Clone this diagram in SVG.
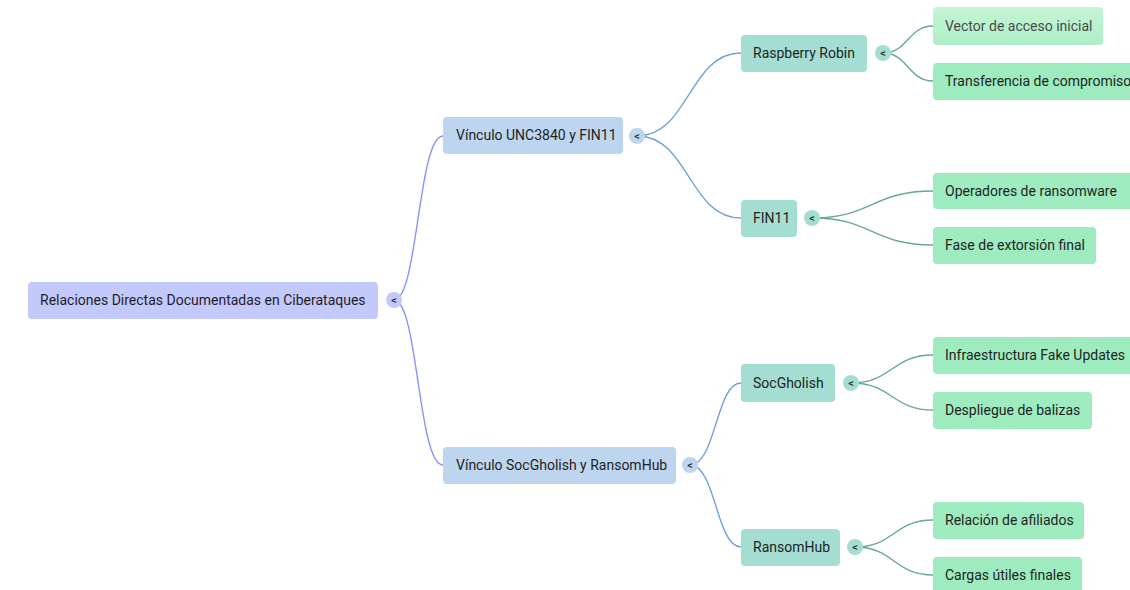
<svg xmlns="http://www.w3.org/2000/svg" width="1130" height="590" viewBox="0 0 1130 590">
  <defs>
    <linearGradient id="leafLight" x1="0" y1="0" x2="0" y2="1">
      <stop offset="0" stop-color="#c4f5d7"/>
      <stop offset="1" stop-color="#aeeec6"/>
    </linearGradient>
    <style>
      .lbl { font-family: Roboto, "Liberation Sans", sans-serif; font-size: 14px; fill: #1f1f1f; dominant-baseline: central; }
      .tog { font-family: Roboto, "Liberation Sans", sans-serif; font-size: 11px; font-weight: 500; fill: #2a2a2a; text-anchor: middle; dominant-baseline: central; }
      .root rect, .root circle { fill: #c4c9fb; }
      .l1 rect, .l1 circle { fill: #bdd5ee; }
      .l2 rect, .l2 circle { fill: #a4ddd1; }
      .l3 rect { fill: #9eebbf; }
      .links path { fill: none; stroke-width: 1.4; }
      .c0 { stroke: #8a92f4; }
      .c1 { stroke: #6f9edc; }
      .c2 { stroke: #68a894; }
    </style>
  </defs>
  <rect width="1130" height="590" fill="#ffffff"/>

  <!-- connectors -->
  <g id="links" class="links">
    <path class="c0" d="M394,300 C418,300 418,136 443,136"/>
    <path class="c0" d="M394,300 C418,300 418,465 443,465"/>
    <path class="c1" d="M637,136 C689,136 689,53 741,53"/>
    <path class="c1" d="M637,136 C689,136 689,218 741,218"/>
    <path class="c1" d="M690,465 C716,465 716,383 741,383"/>
    <path class="c1" d="M690,465 C716,465 716,547 741,547"/>
    <path class="c2" d="M883,53 C908,53 908,26 933,26"/>
    <path class="c2" d="M883,53 C908,53 908,81 933,81"/>
    <path class="c2" d="M812,218 C872,218 872,191 933,191"/>
    <path class="c2" d="M812,218 C872,218 872,245 933,245"/>
    <path class="c2" d="M851,383 C892,383 892,355 933,355"/>
    <path class="c2" d="M851,383 C892,383 892,410 933,410"/>
    <path class="c2" d="M855,547 C894,547 894,520 933,520"/>
    <path class="c2" d="M855,547 C894,547 894,575 933,575"/>
  </g>

  <!-- root -->
  <g id="n-root" class="root">
    <rect x="28" y="282" width="350" height="37" rx="4"/>
    <text class="lbl" x="40" y="300">Relaciones Directas Documentadas en Ciberataques</text>
    <circle cx="394" cy="300" r="8"/>
    <text class="tog" x="394" y="300">&lt;</text>
  </g>

  <!-- level 1 -->
  <g id="n-unc3840" class="l1">
    <rect x="443" y="117" width="180" height="37" rx="4"/>
    <text class="lbl" x="456" y="135">Vínculo UNC3840 y FIN11</text>
    <circle cx="637" cy="136" r="8"/>
    <text class="tog" x="637" y="136">&lt;</text>
  </g>
  <g id="n-socgholish-ransomhub" class="l1">
    <rect x="443" y="447" width="233" height="37" rx="4"/>
    <text class="lbl" x="456" y="465">Vínculo SocGholish y RansomHub</text>
    <circle cx="690" cy="465" r="8"/>
    <text class="tog" x="690" y="465">&lt;</text>
  </g>

  <!-- level 2 -->
  <g id="n-raspberry" class="l2">
    <rect x="741" y="35" width="126" height="37" rx="4"/>
    <text class="lbl" x="753" y="53">Raspberry Robin</text>
    <circle cx="883" cy="53" r="8"/>
    <text class="tog" x="883" y="53">&lt;</text>
  </g>
  <g id="n-fin11" class="l2">
    <rect x="741" y="200" width="56" height="37" rx="4"/>
    <text class="lbl" x="753" y="218">FIN11</text>
    <circle cx="812" cy="218" r="8"/>
    <text class="tog" x="812" y="218">&lt;</text>
  </g>
  <g id="n-socgholish" class="l2">
    <rect x="741" y="364" width="94" height="38" rx="4"/>
    <text class="lbl" x="753" y="382.5">SocGholish</text>
    <circle cx="851" cy="383" r="8"/>
    <text class="tog" x="851" y="383">&lt;</text>
  </g>
  <g id="n-ransomhub" class="l2">
    <rect x="741" y="529" width="99" height="37" rx="4"/>
    <text class="lbl" x="753" y="547">RansomHub</text>
    <circle cx="855" cy="547" r="8"/>
    <text class="tog" x="855" y="547">&lt;</text>
  </g>

  <!-- level 3 -->
  <g id="n-vector" class="l3">
    <rect x="933" y="7" width="170" height="38" rx="4" style="fill:url(#leafLight)"/>
    <text class="lbl" x="945" y="25.5" style="fill:#4a4a4a">Vector de acceso inicial</text>
  </g>
  <g id="n-transferencia" class="l3">
    <rect x="933" y="63" width="210" height="37" rx="4"/>
    <text class="lbl" x="945" y="81">Transferencia de compromiso</text>
  </g>
  <g id="n-operadores" class="l3">
    <rect x="933" y="173" width="210" height="36" rx="4"/>
    <text class="lbl" x="945" y="190.5">Operadores de ransomware</text>
  </g>
  <g id="n-fase" class="l3">
    <rect x="933" y="227" width="163" height="37" rx="4"/>
    <text class="lbl" x="945" y="245">Fase de extorsión final</text>
  </g>
  <g id="n-infra" class="l3">
    <rect x="933" y="337" width="210" height="37" rx="4"/>
    <text class="lbl" x="945" y="355">Infraestructura Fake Updates</text>
  </g>
  <g id="n-balizas" class="l3">
    <rect x="933" y="392" width="159" height="37" rx="4"/>
    <text class="lbl" x="945" y="410">Despliegue de balizas</text>
  </g>
  <g id="n-afiliados" class="l3">
    <rect x="933" y="502" width="151" height="37" rx="4"/>
    <text class="lbl" x="945" y="520">Relación de afiliados</text>
  </g>
  <g id="n-cargas" class="l3">
    <rect x="933" y="557" width="149" height="40" rx="4"/>
    <text class="lbl" x="945" y="575">Cargas útiles finales</text>
  </g>
</svg>
